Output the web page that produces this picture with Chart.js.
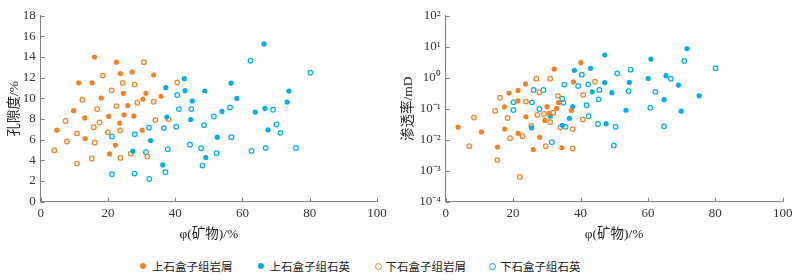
<!DOCTYPE html>
<html>
<head>
<meta charset="utf-8">
<script src="https://cdn.jsdelivr.net/npm/chart.js@4/dist/chart.umd.min.js"></script>
<style>
  html, body { margin: 0; padding: 0; background: #fff; }
  #wrap { position: relative; width: 804px; height: 280px; overflow: hidden; }
  canvas { position: absolute; top: 0; }
  .lg { position: absolute; top: 258px; height: 16px; display: flex; align-items: center;
        font-family: "Noto Sans CJK SC", sans-serif; font-size: 11.5px; color: #222; white-space: nowrap; }
  .dot { display: inline-block; width: 6px; height: 6px; border-radius: 50%; margin-right: 6px; box-sizing: border-box; }
</style>
</head>
<body>
<div id="wrap">
  <canvas id="c1" width="400" height="250" style="left:0px"></canvas>
  <canvas id="c2" width="400" height="250" style="left:400px"></canvas>
  <div class="lg" style="left:140px"><span class="dot" style="background:#F58220"></span>上石盒子组岩屑</div>
  <div class="lg" style="left:257.5px"><span class="dot" style="background:#00AEEF"></span>上石盒子组石英</div>
  <div class="lg" style="left:374.5px"><span class="dot" style="border:1.3px solid #F58220;width:7px;height:7px;margin-right:4px"></span>下石盒子组岩屑</div>
  <div class="lg" style="left:489px"><span class="dot" style="border:1.3px solid #00AEEF;width:7px;height:7px;margin-right:4px"></span>下石盒子组石英</div>
</div>
<script>
// ---------- DATA ----------
const seriesNames = ['上石盒子组岩屑', '上石盒子组石英', '下石盒子组岩屑', '下石盒子组石英'];

// Porosity chart (left)
const upperShalePorX = [16,22.5,23.7,27.2,33.6,11.3,15.3,24.6,31.3,18.0,30.4,35.8,9.8,25.9,24.8,20.2,27.7,13.1,4.8,13.2,23.5,22.2,20.5,30.2];
const upperShalePorY = [14.0,13.5,12.4,12.55,12.26,11.5,11.5,10.48,10.48,10.03,9.93,10.2,8.8,9.3,8.4,8.25,8.28,8.1,6.92,6.1,7.6,5.47,4.62,6.92];
const upperQuartzPorX = [37.2,42.7,42.9,45.1,37.5,32.7,27.4,36.3,44.6,53.9,63.8,67.6,52.5,49.1,66.4,48.8,56.6,58.3,73.8,73.3,66.7];
const upperQuartzPorY = [11.03,11.9,10.74,9.74,8.18,5.91,4.88,3.55,7.95,8.73,8.67,6.95,6.24,4.27,15.27,10.71,11.48,9.99,10.71,9.64,9.02];
const lowerShalePorX = [30.7,18.5,24.4,27.9,21.1,40.6,12.4,28.7,33.6,16.8,22.5,7.4,7.8,4.05,10.8,15.2,10.8,15.8,17.5,16.1,20.0,23.6,23.7,26.8,31.7,34.1,38.0];
const lowerShalePorY = [13.5,12.2,11.5,11.35,10.77,11.55,9.86,9.57,9.67,8.96,9.25,7.8,5.82,4.95,3.68,4.17,6.6,7.2,7.66,5.72,6.72,6.88,4.23,4.65,4.36,7.89,7.99];
const lowerQuartzPorX = [40.6,41.1,44.8,21.2,28.0,32.2,36.6,40.3,31.3,37.8,44.4,21.2,27.9,32.3,37.1,47.7,48.1,51.5,48.6,52.3,56.7,62.7,66.9,70.1,71.3,75.9,69.1,62.4,80.2,56.3];
const lowerQuartzPorY = [10.32,8.96,8.96,6.3,6.53,7.15,7.12,7.25,4.79,5.08,5.5,2.65,2.71,2.19,2.84,5.17,3.49,8.24,7.4,4.69,6.24,4.91,5.2,7.47,6.66,5.2,8.89,13.65,12.49,9.12];

// Permeability chart (right)
const upperShalePermX = [40.1,32.2,37.9,23.7,21.5,18.8,17.4,21.4,30.1,32.9,33.5,37.3,23.8,3.7,10.6,15.4,17.5,21.5,26.0,27.9,29.4,30.7,34.5];
const upperShalePermY = [3.05,1.9,0.73,0.63,0.39,0.32,0.115,0.178,0.116,0.103,0.156,0.087,0.055,0.0256,0.0178,0.0058,0.022,0.016,0.0048,0.012,0.042,0.071,0.0055];
const upperQuartzPermX = [38.2,43.0,43.5,37.7,31.0,36.7,25.5,34.6,47.2,71.6,60.9,47.2,54.5,60.1,65.4,69.1,49.3,64.8,75.2,53.5,69.9,47.6];
const upperQuartzPermY = [1.74,2.0,0.35,0.116,0.057,0.049,0.024,0.029,5.4,8.7,4.0,0.69,0.71,0.95,1.16,0.58,0.33,0.195,0.26,0.089,0.083,0.033];
const lowerShalePermX = [26.9,31.0,27.8,33.3,40.8,44.3,16.1,14.7,23.8,18.4,27.2,31.9,8.4,7.0,15.3,22.0,19.1,22.8,25.4,29.7,31.0,29.2,34.0,37.7,37.7,40.7];
const lowerShalePermY = [0.93,0.93,0.34,0.26,0.28,0.74,0.226,0.085,0.17,0.05,0.063,0.074,0.052,0.0062,0.0022,0.00063,0.0112,0.013,0.028,0.0062,0.037,0.068,0.025,0.022,0.0052,0.045];
const lowerQuartzPermX = [35.2,40.4,39.3,42.3,45.6,26.1,29.0,20.1,20.1,25.6,34.6,34.9,27.8,41.8,45.4,42.4,31.5,35.6,45.2,50.9,54.9,70.8,80.1,66.8,62.2,54.3,60.7,50.4,64.8,49.9];
const lowerQuartzPermY = [0.6,1.25,0.54,0.61,0.4,0.4,0.4,0.16,0.091,0.16,0.21,0.157,0.098,0.129,0.2,0.057,0.0083,0.026,0.032,1.38,1.82,3.46,2.0,0.93,0.35,0.37,0.107,0.026,0.027,0.0065];

// Tick values
const xTicks = [0, 20, 40, 60, 80, 100];
const porTicks = [0, 2, 4, 6, 8, 10, 12, 14, 16, 18];
const permExponents = [-4, -3, -2, -1, 0, 1, 2];

// Titles
const xTitle = 'φ(矿物)/%';
const porTitle = '孔隙度/%';
const permTitle = '渗透率/mD';

// ---------- STYLE ----------
const ORANGE = '#F58220', BLUE = '#00AEEF', AXIS = '#808080';
const tickFont = { family: '"Liberation Serif", "Noto Sans CJK SC", serif', size: 13 };
const titleFont = { family: '"Liberation Serif", "Noto Sans CJK SC", serif', size: 13.5 };

function pts(xs, ys) { return xs.map((x, i) => ({ x: x, y: ys[i] })); }
function ds(label, data, color, filled) {
  return filled
    ? { label, data, pointRadius: 2.6, pointBackgroundColor: color, pointBorderColor: color, pointBorderWidth: 0, showLine: false }
    : { label, data, pointRadius: 2.3, pointBackgroundColor: 'rgba(255,255,255,0)', pointBorderColor: color, pointBorderWidth: 1.25, showLine: false };
}
const sup = { '-': '⁻', '0': '⁰', '1': '¹', '2': '²', '3': '³', '4': '⁴' };
function supStr(n) { return String(n).split('').map(c => sup[c]).join(''); }

const inwardTicks = {
  id: 'inwardTicks',
  afterDraw(chart) {
    const { ctx } = chart; const x = chart.scales.x, y = chart.scales.y;
    ctx.save(); ctx.strokeStyle = AXIS; ctx.lineWidth = 1;
    x.ticks.forEach(t => { const p = Math.round(x.getPixelForValue(t.value)) + 0.5; ctx.beginPath(); ctx.moveTo(p, x.top); ctx.lineTo(p, x.top - 4); ctx.stroke(); });
    y.ticks.forEach(t => { const p = Math.round(y.getPixelForValue(t.value)) + 0.5; ctx.beginPath(); ctx.moveTo(y.right, p); ctx.lineTo(y.right + 4, p); ctx.stroke(); });
    ctx.restore();
  }
};

function xScale(axisH) {
  return {
    type: 'linear', min: 0, max: 100,
    afterBuildTicks: s => { s.ticks = xTicks.map(v => ({ value: v })); },
    afterFit: s => { s.height = axisH; },
    grid: { display: false, drawTicks: false },
    border: { display: true, color: AXIS, width: 1 },
    ticks: { color: '#333', font: tickFont, padding: 4, maxRotation: 0 },
    title: { display: true, text: xTitle, color: '#222', font: titleFont, padding: { top: 2, bottom: 7 } }
  };
}

const common = {
  type: 'scatter',
  options: {
    responsive: false, animation: false, devicePixelRatio: 1,
    plugins: { legend: { display: false }, tooltip: { enabled: false } },
  },
  plugins: [inwardTicks]
};

new Chart(document.getElementById('c1'), {
  ...common,
  data: { datasets: [
    ds(seriesNames[0], pts(upperShalePorX, upperShalePorY), ORANGE, true),
    ds(seriesNames[1], pts(upperQuartzPorX, upperQuartzPorY), BLUE, true),
    ds(seriesNames[2], pts(lowerShalePorX, lowerShalePorY), ORANGE, false),
    ds(seriesNames[3], pts(lowerQuartzPorX, lowerQuartzPorY), BLUE, false)
  ] },
  options: {
    ...common.options,
    layout: { padding: { left: 0, right: 23, top: 15.7, bottom: 0 } },
    scales: {
      x: xScale(48.4),
      y: {
        type: 'linear', min: 0, max: 18,
        afterBuildTicks: s => { s.ticks = porTicks.map(v => ({ value: v })); },
        afterFit: s => { s.width = 40.7; },
        grid: { display: false, drawTicks: false },
        border: { display: true, color: AXIS, width: 1 },
        ticks: { color: '#333', font: tickFont, padding: 5 },
        title: { display: true, text: porTitle, color: '#222', font: titleFont, padding: { top: 6.5, bottom: 0 } }
      }
    }
  }
});

new Chart(document.getElementById('c2'), {
  ...common,
  data: { datasets: [
    ds(seriesNames[0], pts(upperShalePermX, upperShalePermY), ORANGE, true),
    ds(seriesNames[1], pts(upperQuartzPermX, upperQuartzPermY), BLUE, true),
    ds(seriesNames[2], pts(lowerShalePermX, lowerShalePermY), ORANGE, false),
    ds(seriesNames[3], pts(lowerQuartzPermX, lowerQuartzPermY), BLUE, false)
  ] },
  options: {
    ...common.options,
    layout: { padding: { left: 0, right: 17.3, top: 15.7, bottom: 0 } },
    scales: {
      x: xScale(48.3),
      y: {
        type: 'logarithmic', min: 1e-4, max: 100,
        afterBuildTicks: s => { s.ticks = permExponents.map(e => ({ value: Math.pow(10, e) })); },
        afterFit: s => { s.width = 45.7; },
        grid: { display: false, drawTicks: false },
        border: { display: true, color: AXIS, width: 1 },
        ticks: { color: '#333', font: tickFont, padding: 5,
          callback: v => '10' + supStr(Math.round(Math.log10(v))) },
        title: { display: true, text: permTitle, color: '#222', font: titleFont, padding: { top: 0.8, bottom: 0 } }
      }
    }
  }
});
</script>
</body>
</html>
